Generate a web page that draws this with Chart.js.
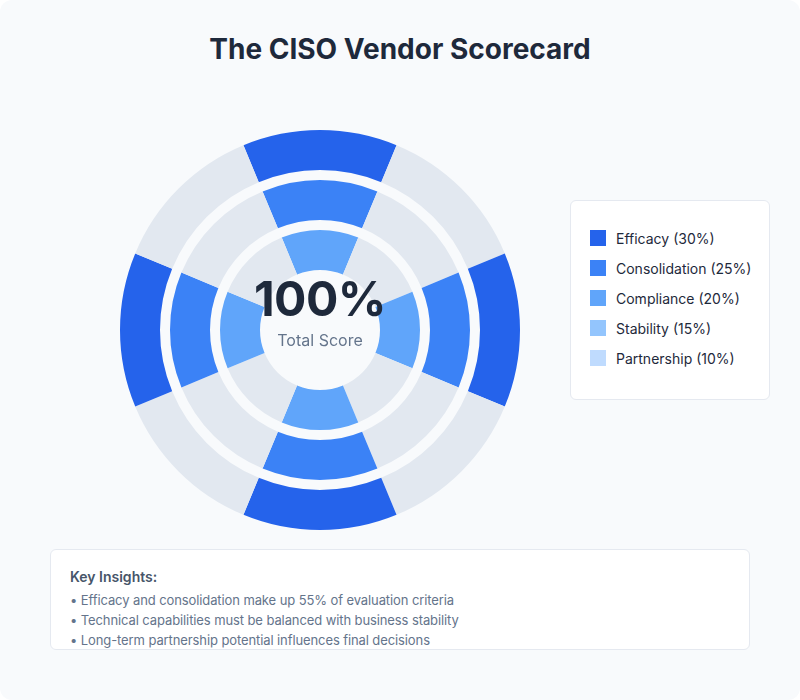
<!DOCTYPE html>
<html>
<head>
<meta charset="utf-8">
<script src="https://cdn.jsdelivr.net/npm/chart.js@4.4.0/dist/chart.umd.min.js"></script>
<style>
  html, body { margin: 0; padding: 0; background: #ffffff; }
  body { width: 800px; height: 700px; overflow: hidden; font-family: Inter, "Noto Sans", sans-serif; }
  #wrap { position: relative; width: 800px; height: 700px; background: #f8fafc; border-radius: 12px; overflow: hidden; }
  #title { position: absolute; left: 0; top: 30px; width: 800px; text-align: center; font-size: 28px; font-weight: 700; color: #1e293b; line-height: 38px; letter-spacing: 0px; }
  #chartBox { position: absolute; left: 120px; top: 130px; width: 400px; height: 400px; }
  #center { position: absolute; left: 220px; top: 270px; width: 200px; text-align: center; pointer-events: none; }
  #center .big { font-size: 48px; font-weight: 700; color: #1e293b; line-height: 58px; letter-spacing: -0.5px; }
  #center .small { font-size: 16px; color: #64748b; line-height: 22px; margin-top: 1px; }
  #legend { position: absolute; left: 570px; top: 200px; width: 198px; height: 198px; background: #ffffff; border: 1px solid #e5e9f0; border-radius: 6px; box-sizing: content-box; }
  .lg { position: absolute; left: 19px; height: 20px; display: flex; align-items: center; font-size: 14px; color: #1e293b; }
  .lg .sw { width: 16px; height: 16px; margin-right: 10px; }
  #insights { position: absolute; left: 50px; top: 549px; width: 698px; height: 99px; background: #ffffff; border: 1px solid #e5e9f0; border-radius: 6px; }
  #insights .hd { position: absolute; left: 19px; top: 18px; font-size: 14px; font-weight: 600; color: #475569; }
  #insights .it { position: absolute; left: 19px; font-size: 13px; color: #64748b; letter-spacing: -0.1px; }
</style>
</head>
<body>
<div id="wrap">
  <div id="title">The CISO Vendor Scorecard</div>
  <div id="chartBox"><canvas id="c"></canvas></div>
  <div id="center"><div class="big">100%</div><div class="small">Total Score</div></div>
  <div id="legend"></div>
  <div id="insights"></div>
</div>
<script>
// Legend categories and their weights
const categories = ['Efficacy', 'Consolidation', 'Compliance', 'Stability', 'Partnership'];
const weights = [30, 25, 20, 15, 10];
const categoryColors = ['#2563eb', '#3b82f6', '#60a5fa', '#93c5fd', '#bfdbfe'];

// Each ring: 8 equal segments, alternating highlighted / grey
const outerRing = [1, 1, 1, 1, 1, 1, 1, 1];
const middleRing = [1, 1, 1, 1, 1, 1, 1, 1];
const innerRing = [1, 1, 1, 1, 1, 1, 1, 1];
const gapRing = [1];

const totalScore = '100%';
const insightsTitle = 'Key Insights:';
const insights = [
  'Efficacy and consolidation make up 55% of evaluation criteria',
  'Technical capabilities must be balanced with business stability',
  'Long-term partnership potential influences final decisions'
];

const grey = '#e2e8f0';
function pattern(color, n) {
  const out = [];
  for (let i = 0; i < n; i++) out.push(i % 2 === 0 ? color : grey);
  return out;
}

new Chart(document.getElementById('c'), {
  type: 'doughnut',
  data: {
    labels: outerRing.map((_, i) => 'Segment ' + (i + 1)),
    datasets: [
      { data: outerRing, backgroundColor: pattern(categoryColors[0], outerRing.length), borderWidth: 0, weight: 4 },
      { data: gapRing, backgroundColor: 'rgba(0,0,0,0)', borderWidth: 0, weight: 1 },
      { data: middleRing, backgroundColor: pattern(categoryColors[1], middleRing.length), borderWidth: 0, weight: 4 },
      { data: gapRing, backgroundColor: 'rgba(0,0,0,0)', borderWidth: 0, weight: 1 },
      { data: innerRing, backgroundColor: pattern(categoryColors[2], innerRing.length), borderWidth: 0, weight: 4 }
    ]
  },
  options: {
    responsive: true,
    maintainAspectRatio: false,
    animation: false,
    cutout: '30%',
    radius: '100%',
    rotation: -22.5,
    layout: { padding: 0 },
    plugins: { legend: { display: false }, tooltip: { enabled: false } },
    events: []
  }
});

document.querySelector('#center .big').textContent = totalScore;

const lg = document.getElementById('legend');
categories.forEach((c, i) => {
  const row = document.createElement('div');
  row.className = 'lg';
  row.style.top = (27 + i * 30) + 'px';
  row.innerHTML = '<span class="sw" style="background:' + categoryColors[i] + '"></span><span>' + c + ' (' + weights[i] + '%)</span>';
  lg.appendChild(row);
});

const ins = document.getElementById('insights');
const hd = document.createElement('div');
hd.className = 'hd';
hd.textContent = insightsTitle;
ins.appendChild(hd);
insights.forEach((t, i) => {
  const d = document.createElement('div');
  d.className = 'it';
  d.style.top = (42 + i * 20) + 'px';
  d.textContent = '\u2022 ' + t;
  ins.appendChild(d);
});
</script>
</body>
</html>
